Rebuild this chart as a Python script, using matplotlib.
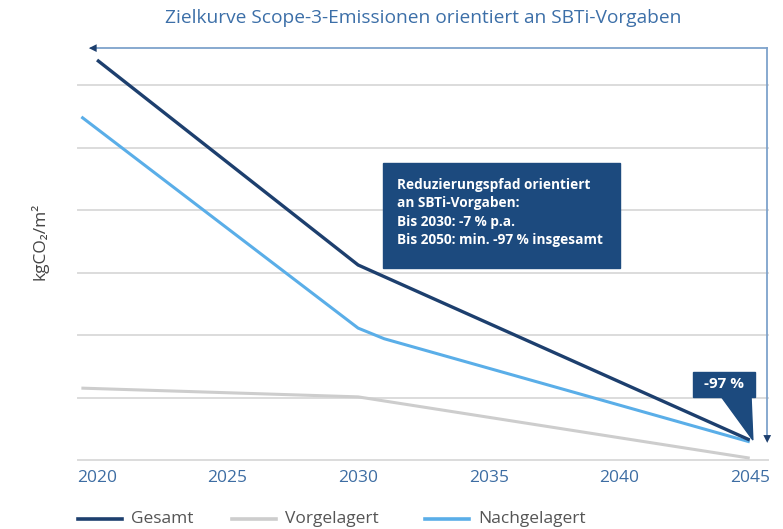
import matplotlib.pyplot as plt
from matplotlib.patches import Polygon, Rectangle

plt.rcParams["font.family"] = ["Open Sans", "DejaVu Sans"]

# (no y tick labels in the original, arbitrary units)
years_gesamt = [2020, 2030, 2045]
gesamt = [64.0, 31.2, 3.2]
years_vor = [2019.4, 2030, 2045]
vorgelagert = [11.5, 10.1, 0.3]
years_nach = [2019.4, 2030, 2031, 2045]
nachgelagert = [54.9, 21.1, 19.4, 2.9]
xticks = [2020, 2025, 2030, 2035, 2040, 2045]

NAVY = "#1d3f6e"
BOX = "#1c4a7e"
LIGHT = "#5aaee8"
GREY = "#cdcdcd"
TICK = "#3d6da3"


def main():
    fig = plt.figure(figsize=(7.83, 5.29), dpi=100)
    ax = fig.add_axes([78 / 783, 69 / 529, 690 / 783, 419 / 529])
    ax.set_xlim(2019.27, 2045.7)
    ax.set_ylim(0, 67.04)

    for y in range(0, 70, 10):
        ax.axhline(y, color="#dcdcdc", lw=1.4, zorder=1, clip_on=False)

    ax.plot(years_vor, vorgelagert, color=GREY, lw=2.2, zorder=2,
            solid_capstyle="butt")
    ax.plot(years_nach, nachgelagert, color=LIGHT, lw=2.2, zorder=3,
            solid_capstyle="butt")
    ax.plot(years_gesamt, gesamt, color=NAVY, lw=2.4, zorder=4,
            solid_capstyle="butt")

    # bracket arrows
    ax.plot([2045.67, 2045.67], [65.9, 3.5], color="#7ea2cb", lw=1.3,
            clip_on=False, zorder=2)
    ax.plot([2019.75, 2045.67], [65.9, 65.9], color="#7ea2cb", lw=1.3,
            clip_on=False, zorder=2)
    ax.annotate("", xy=(2019.58, 65.9), xytext=(2020.1, 65.9),
                arrowprops=dict(arrowstyle="-|>", color=NAVY, lw=0,
                                mutation_scale=14), annotation_clip=False)
    ax.annotate("", xy=(2045.67, 2.3), xytext=(2045.67, 5.0),
                arrowprops=dict(arrowstyle="-|>", color=NAVY, lw=0,
                                mutation_scale=14), annotation_clip=False)

    # info box
    ax.add_patch(Rectangle((2030.96, 30.7), 9.08, 16.8, color=BOX, zorder=5))
    info = ["Reduzierungspfad orientiert", "an SBTi-Vorgaben:",
            "Bis 2030: -7 % p.a.", "Bis 2050: min. -97 % insgesamt"]
    for i, line in enumerate(info):
        ax.text(2031.5, 44.0 - i * 2.95, line, color="white", fontsize=9.8,
                fontweight="bold", va="center", ha="left", zorder=6)

    # -97 % callout
    ax.add_patch(Rectangle((2042.83, 10.1), 2.37, 4.0, color=BOX, zorder=5))
    ax.add_patch(Polygon([(2043.9, 10.2), (2045.05, 10.2), (2045.12, 3.2)],
                         closed=True, color=BOX, zorder=5))
    ax.text(2044.02, 12.1, "-97 %", color="white", fontsize=11,
            fontweight="bold", ha="center", va="center", zorder=6)

    ax.set_xticks(xticks)
    ax.set_xticklabels([str(x) for x in xticks])
    ax.tick_params(axis="x", length=0, pad=7, labelsize=12.5, labelcolor=TICK)
    ax.set_yticks([])
    for s in ax.spines.values():
        s.set_visible(False)

    fig.text(40 / 783, 1 - 241 / 529, "kgCO₂/m²", rotation=90, fontsize=12.5,
             color="#444444", ha="center", va="center")
    fig.text(423 / 783, 1 - 18 / 529,
             "Zielkurve Scope-3-Emissionen orientiert an SBTi-Vorgaben",
             fontsize=13.8, color="#3c6fa8", ha="center", va="center")

    # legend
    legend_items = [("Gesamt", NAVY, 78), ("Vorgelagert", GREY, 232),
                    ("Nachgelagert", LIGHT, 425)]
    for label, col, x0 in legend_items:
        fig.lines.append(plt.Line2D([x0 / 783, (x0 + 44) / 783],
                                    [1 - 519 / 529, 1 - 519 / 529],
                                    color=col, lw=2.6,
                                    transform=fig.transFigure))
        fig.text((x0 + 53) / 783, 1 - 519 / 529, label, fontsize=12.5,
                 color="#555555", va="center", ha="left")

    fig.savefig("out.png", dpi=100)


if __name__ == "__main__":
    main()
